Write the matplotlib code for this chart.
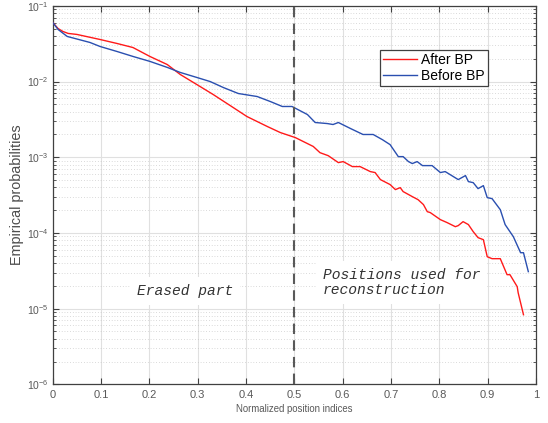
import numpy as np
import matplotlib
matplotlib.use('Agg')
import matplotlib.pyplot as plt
from matplotlib.ticker import LogLocator, NullFormatter

# normalized position, probability after BP
x_after = [0.0, 0.011, 0.021, 0.032, 0.050, 0.098, 0.133, 0.166, 0.201, 0.237,
           0.264, 0.305, 0.332, 0.367, 0.402, 0.444, 0.471, 0.502, 0.539, 0.553,
           0.570, 0.591, 0.601, 0.620, 0.636, 0.657, 0.667, 0.678, 0.698, 0.709,
           0.719, 0.725, 0.744, 0.756, 0.767, 0.775, 0.781, 0.802, 0.816, 0.833,
           0.839, 0.849, 0.860, 0.870, 0.880, 0.891, 0.899, 0.909, 0.926, 0.940,
           0.946, 0.961, 0.963, 0.974]
p_after = [0.0605, 0.0503, 0.046, 0.0433, 0.042, 0.036, 0.0319, 0.0282, 0.0215, 0.0168,
           0.0124, 0.0086, 0.00675, 0.00483, 0.00345, 0.00255, 0.00212, 0.00182, 0.00139, 0.00115,
           0.00105, 0.00085, 0.000877, 0.000753, 0.000753, 0.000647, 0.000628, 0.000507, 0.000436, 0.000374,
           0.000397, 0.000352, 0.000302, 0.000275, 0.000237, 0.000191, 0.000186, 0.00015, 0.000137, 0.000121,
           0.000125, 0.000141, 0.000129, 0.000104, 8.67e-5, 8.15e-5, 4.85e-5, 4.57e-5, 4.57e-5, 2.81e-5,
           2.81e-5, 1.95e-5, 1.62e-5, 8.3e-6]

# normalized position, probability before BP
x_before = [0.0, 0.011, 0.030, 0.077, 0.098, 0.133, 0.166, 0.201, 0.237, 0.264,
            0.299, 0.326, 0.353, 0.384, 0.423, 0.450, 0.475, 0.495, 0.527, 0.543,
            0.568, 0.580, 0.591, 0.616, 0.642, 0.663, 0.682, 0.698, 0.715, 0.725,
            0.736, 0.744, 0.754, 0.765, 0.785, 0.802, 0.812, 0.839, 0.854, 0.860,
            0.870, 0.880, 0.891, 0.899, 0.909, 0.926, 0.936, 0.953, 0.968, 0.974,
            0.984]
p_before = [0.0605, 0.0489, 0.0395, 0.0329, 0.0291, 0.025, 0.0215, 0.0185, 0.0154, 0.0132,
            0.0113, 0.0100, 0.00835, 0.00696, 0.00635, 0.00546, 0.00469, 0.00469, 0.00367, 0.00288,
            0.00279, 0.00271, 0.00288, 0.00240, 0.00200, 0.00200, 0.00171, 0.00147, 0.00102, 0.00102,
            0.000877, 0.000826, 0.000877, 0.000776, 0.000776, 0.000628, 0.000647, 0.000507, 0.000573, 0.000477,
            0.000462, 0.000385, 0.000422, 0.000293, 0.000284, 0.000203, 0.000129, 8.93e-5, 5.48e-5, 5.48e-5,
            3.08e-5]

xticks = [0, 0.1, 0.2, 0.3, 0.4, 0.5, 0.6, 0.7, 0.8, 0.9, 1]
xticklabels = ['0', '0.1', '0.2', '0.3', '0.4', '0.5', '0.6', '0.7', '0.8', '0.9', '1']

plt.rcParams['font.family'] = ['Liberation Sans', 'DejaVu Sans']
axcol = '0.25'

fig = plt.figure(figsize=(5.48, 4.23), dpi=100)
ax = fig.add_axes([0.0962, 0.0915, 0.882, 0.8945])

ax.plot(x_after, p_after, color='#ff1a1a', lw=1.0, label='After BP', zorder=3)
ax.plot(x_before, p_before, color='#2a4fb0', lw=1.0, label='Before BP', zorder=3)
ax.axvline(0.5, color='0.35', lw=1.5, ls=(0, (5, 3)), zorder=4)

ax.set_yscale('log')
ax.set_xlim(0, 1)
ax.set_ylim(1e-6, 1e-1)
ax.set_xticks(xticks)
ax.set_xticklabels(xticklabels)
ax.yaxis.set_minor_locator(LogLocator(base=10, subs=np.arange(2, 10), numticks=20))
ax.yaxis.set_minor_formatter(NullFormatter())

ax.grid(True, which='major', color='0.88', lw=0.8, zorder=0)
ax.grid(True, which='minor', axis='y', color='0.72', lw=0.5, ls=(0, (1, 3)), zorder=0)
ax.set_axisbelow(True)

ax.tick_params(which='both', direction='in', top=True, right=True,
               colors=axcol, labelcolor='0.35')
ax.tick_params(axis='x', labelsize=8, pad=4)
ax.tick_params(axis='y', labelsize=7.5, pad=3)
ax.tick_params(which='major', length=4, width=0.8)
ax.tick_params(which='minor', length=2, width=0.6)
for s in ax.spines.values():
    s.set_color(axcol)
    s.set_linewidth(0.9)

ax.set_xlabel('Normalized position indices', fontsize=6.9, color='0.35', labelpad=3)
ax.set_ylabel('Empirical probabilities', fontsize=10.4, color='0.3', labelpad=2)

box = dict(facecolor='white', edgecolor='none', pad=5)
ax.text(0.1745, 1.73e-5, 'Erased part', family='Liberation Mono', style='italic',
        fontsize=10.5, color='0.2', va='center', ha='left', bbox=box, zorder=5)
ax.text(0.559, 2.2e-5, 'Positions used for\nreconstruction', family='Liberation Mono',
        style='italic', fontsize=10.5, color='0.2', va='center', ha='left',
        linespacing=1.1, bbox=box, zorder=5)

leg = ax.legend(loc='upper left', bbox_to_anchor=(0.677, 0.884), fontsize=10,
                fancybox=False, framealpha=1, edgecolor='0.25', borderpad=0.25,
                handlelength=2.4, handletextpad=0.3, labelspacing=0.1,
                borderaxespad=0)
leg.get_frame().set_linewidth(0.9)
leg.set_zorder(6)

fig.savefig('out.png', dpi=100)
